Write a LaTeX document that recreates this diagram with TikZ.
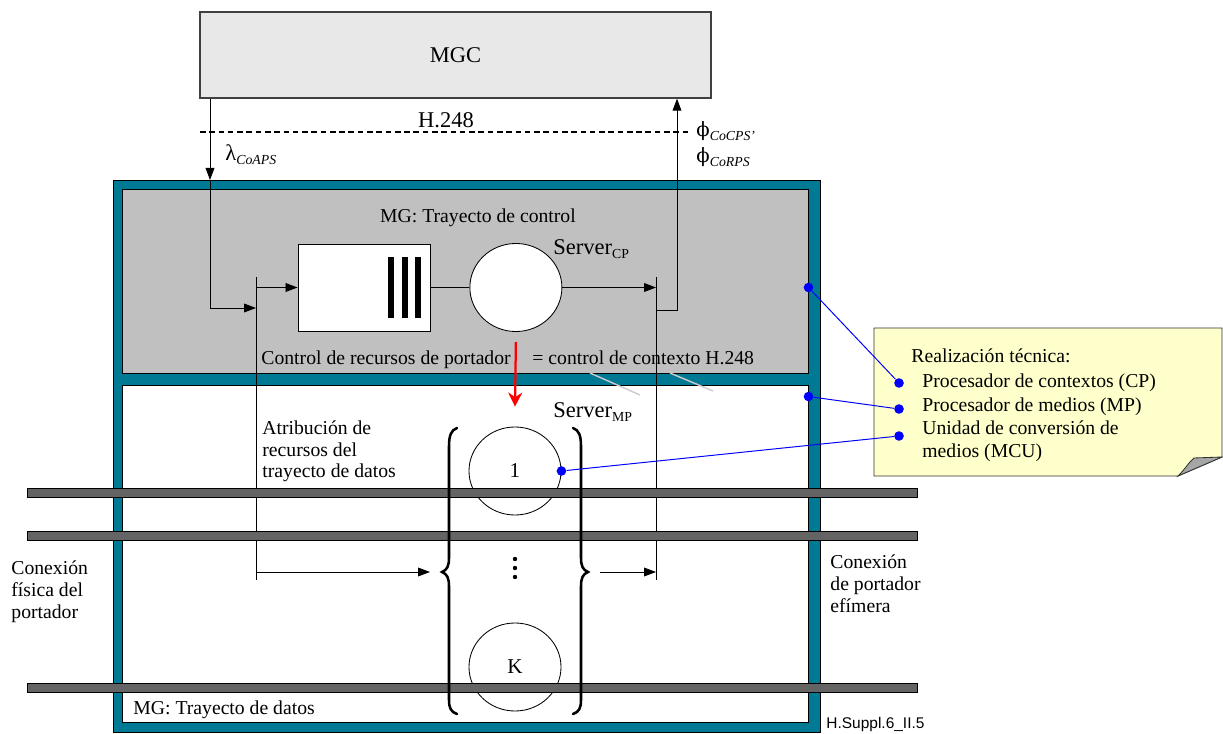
\documentclass[tikz,border=0pt]{standalone}
\usepackage{amsmath}
\usepackage{fontspec}
\setmainfont{Liberation Serif}
\newfontfamily\greekserif{DejaVu Serif}
\newfontfamily\labelsans{Liberation Sans}
\usepackage{tikz}
\usetikzlibrary{shapes.geometric}
\usetikzlibrary{positioning}
\usetikzlibrary{calc}
\usetikzlibrary{arrows.meta}
\definecolor{mgteal}{RGB}{0,122,148}
\definecolor{ctrlgray}{RGB}{192,192,192}
\definecolor{mgcgray}{RGB}{232,232,232}
\definecolor{bargray}{RGB}{100,100,100}
\definecolor{noteyellow}{RGB}{255,255,204}
\tikzset{every picture/.style={line width=0.6pt},
  txt/.style={font=\fontsize{14}{15.5}\selectfont,inner sep=0pt},
  arr/.style={-{Triangle[length=3mm,width=2.2mm]}},
  server/.style={ellipse,draw,fill=white,minimum width=2.3cm,minimum height=2.2cm,inner sep=0pt,font=\fontsize{15}{17}\selectfont},
  bearer/.style={draw=black,fill=bargray,line width=0.5pt},
  bigbrace/.style={line width=1.8pt,line cap=round},
  pointer/.style={blue,line width=0.7pt},
  bluedot/.style={circle,fill=blue,inner sep=0pt,minimum size=2.4mm}}
\begin{document}
\begin{tikzpicture}[x=0.025cm,y=-0.025cm]
\useasboundingbox (0,0) rectangle (1223,734);

% MGC and H.248 interface
\node (mgc) at (455.5,55) [draw=black!75,line width=0.9pt,fill=mgcgray,minimum width=12.775cm,minimum height=2.15cm,inner sep=0pt] {\fontsize{16}{18}\selectfont MGC};
\coordinate (h248L) at (200,132);
\coordinate (h248R) at (690,132);
\draw[dashed,line width=1pt,dash pattern=on 4pt off 2.6pt] (h248L) -- (h248R);
\node[txt,anchor=base] (h248) at (446,128) {\fontsize{16}{18}\selectfont H.248};
\node[txt,anchor=base west] (lam) at (225,161) {{\fontsize{16}{18}\selectfont λ}\textsubscript{\textit{CoAPS}}};
\node[txt,anchor=base west] (phi1) at (696,137) {{\greekserif ϕ}\textsubscript{\textit{CoCPS'}}};
\node[txt,anchor=base west] (phi2) at (696,163) {{\greekserif ϕ}\textsubscript{\textit{CoRPS}}};

% media gateway
\node (mg) at (467,456) [draw,fill=mgteal,minimum width=17.65cm,minimum height=13.8cm] {};
\node (ctrl) at (465.5,281) [draw,fill=ctrlgray,minimum width=17.125cm,minimum height=4.6cm] {};
\node (data) at (465.5,553.5) [draw,fill=white,minimum width=17.125cm,minimum height=8.425cm] {};
\node[txt,anchor=base] (ctrltitle) at (478,223) {MG: Trayecto de control};
\node[txt,anchor=base west] (datatitle) at (133,714) {MG: Trayecto de datos};

% control path
\node (queue) at (364,287.5) [draw,fill=white,minimum width=3.3cm,minimum height=2.175cm] {};
\foreach \x in {391,405,418}
  \fill (\x-3,257) rectangle (\x+3,318);
\node (srvcp) [server, right=0.975cm of queue] {};
\node[txt,anchor=base west] (srvcplab) at (553,255) {{\fontsize{16}{18}\selectfont Server}\textsubscript{CP}};
\coordinate (inLtop) at (256,277);
\coordinate (inLbot) at (256,580);
\coordinate (outRtop) at (656,277);
\coordinate (outRbot) at (656,580);
\coordinate (cmdin) at (210,180);
\coordinate (inLmid) at (256,308);
\coordinate (rspout) at (656,310);
\coordinate (rspcol) at (677,0);
\draw[arr] (mgc.south -| cmdin) -- (cmdin);
\draw[arr] (cmdin) |- (inLmid);
\draw (inLtop) -- (inLbot);
\draw (outRtop) -- (outRbot);
\draw[arr] (inLtop |- queue) -- (queue.west);
\draw (queue) -- (srvcp);
\draw[arr] (srvcp) -- (srvcp -| outRtop);
\draw[arr] (rspout) -| (mgc.south -| rspcol);
\node[txt,anchor=base west] (brc) at (261,365) {Control de recursos de portador};
\node[txt,anchor=base west] (ctxc) at (532,365) {= control de contexto H.248};
\draw[black!20,line width=1pt] (590,373) -- (640,395);
\draw[black!20,line width=1pt] (670,373) -- (713,391);

% data path
\node (srv1) at (515,471) [server] {1};
\node (srvk) at (515,667) [server] {K};
\coordinate (vdots) at (515,568);
\foreach \d in {-9,0,9}
  \fill ($(vdots)+(0,\d)$) circle (2.2);
\node[txt,anchor=base west] (srvmplab) at (553,418) {{\fontsize{16}{18}\selectfont Server}\textsubscript{MP}};
\node[txt,anchor=base west,align=left] (alloc) at (262,478) {Atribución de\\recursos del\\trayecto de datos};
\draw[red,line width=1.6pt,-{Stealth[length=3.5mm,width=3.5mm]}] ($(srvcp.south)+(0,10)$) -- ($(srv1.north)+(0,-20)$);

% bearer connections
\foreach \y in {493,536,688}
  \draw[bearer] (27,\y-4.5) rectangle (917,\y+4.5);
\draw[bigbrace] (457,428) .. controls (451,430) and (449,436) .. (449,446) -- (449,558)
  .. controls (449,566) and (447,570) .. (442,572) .. controls (447,574) and (449,578) .. (449,586)
  -- (449,700) .. controls (449,708) and (451,712) .. (457,714);
\draw[bigbrace] (573,428) .. controls (579,430) and (581,436) .. (581,446) -- (581,558)
  .. controls (581,566) and (583,570) .. (588,572) .. controls (583,574) and (581,578) .. (581,586)
  -- (581,700) .. controls (581,708) and (579,712) .. (573,714);
\coordinate (dataIn) at (256,572);
\coordinate (dataMid) at (430,572);
\coordinate (dataOut) at (600,572);
\draw[arr] (dataIn) -- (dataMid);
\draw[arr] (dataOut) -- (dataOut -| outRtop);
\node[txt,anchor=base west,align=left] (physc) at (11,618) {Conexión\\física del\\portador};
\node[txt,anchor=base west,align=left] (ephc) at (830,612) {Conexión\\de portador\\efímera};
\node[anchor=base west,inner sep=0pt] (figid) at (826,728) {\labelsans\fontsize{11}{11}\selectfont H.Suppl.6\_II.5};

% note
\draw[black!80,fill=noteyellow] (874,328) -- (1222,328) -- (1222,457) -- (1178,476) -- (874,476) -- cycle;
\draw[black!80,fill=black!35] (1178,476) .. controls (1186,468) and (1189,462) .. (1194,458) -- (1222,457) -- cycle;
\node[txt,anchor=base west] (nt0) at (911,363) {Realización técnica:};
\node[txt,anchor=base west] (nt1) at (922,388) {Procesador de contextos (CP)};
\node[txt,anchor=base west] (nt2) at (922,412) {Procesador de medios (MP)};
\node[txt,anchor=base west] (nt3) at (922,434) {Unidad de conversión de};
\node[txt,anchor=base west] (nt4) at (922,457) {medios (MCU)};
\node[bluedot] (bcp) at (899,383) {};
\node[bluedot] (bmp) at (899,409) {};
\node[bluedot] (bmcu) at (899,436) {};
\node[bluedot] (pcp) at (ctrl.east |- srvcp) {};
\node[bluedot] (pmp) at ($(data.north east)+(0,12)$) {};
\node[bluedot] (pmcu) at (srv1.east) {};
\draw[pointer] (pcp) -- (bcp);
\draw[pointer] (pmp) -- (bmp);
\draw[pointer] (pmcu) -- (bmcu);
\end{tikzpicture}
\end{document}
